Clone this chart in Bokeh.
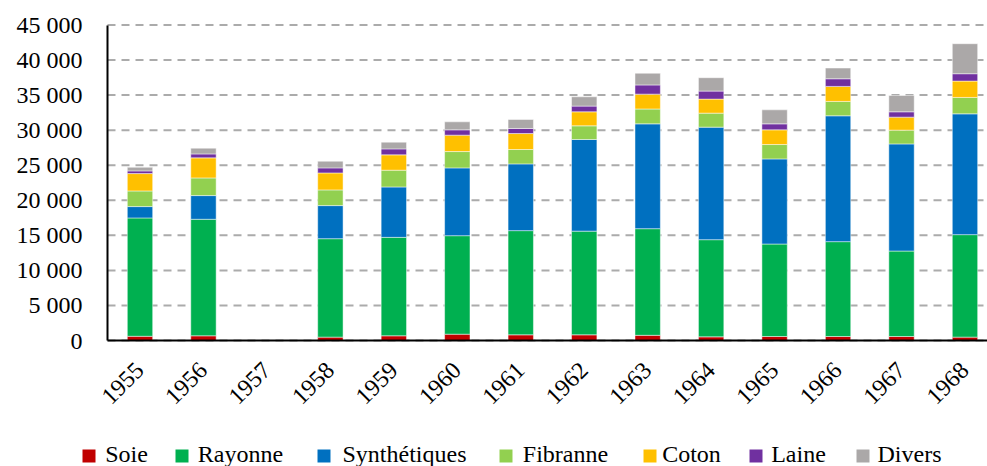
import math
from bokeh.plotting import figure
from bokeh.models import Range1d, FixedTicker, ColumnDataSource, LinearAxis
from bokeh.embed import file_html
from bokeh.resources import INLINE

years = ["1955", "1956", "1957", "1958", "1959", "1960", "1961",
         "1962", "1963", "1964", "1965", "1966", "1967", "1968"]

series_names = ["Soie", "Rayonne", "Synthétiques", "Fibranne", "Coton", "Laine", "Divers"]

soie = [600, 670, 0, 480, 670, 900, 810, 810, 740, 520, 570, 570, 570, 480]
rayonne = [16880, 16620, 0, 14040, 14040, 14050, 14860, 14790, 15210, 13860, 13190, 13530, 12190, 14620]
synthetiques = [1620, 3380, 0, 4720, 7190, 9670, 9520, 13070, 14950, 16050, 12140, 17950, 15280, 17230]
fibranne = [2230, 2520, 0, 2240, 2390, 2330, 2050, 1950, 2120, 2000, 2050, 2050, 1960, 2340]
coton = [2480, 2860, 0, 2420, 2190, 2340, 2280, 2000, 2120, 2000, 2100, 2140, 1860, 2330]
laine = [380, 560, 0, 720, 850, 760, 720, 810, 1310, 1140, 850, 1090, 760, 1050]
divers = [520, 820, 0, 950, 960, 1140, 1280, 1330, 1670, 1910, 2000, 1530, 2330, 4280]

y_ticks = [0, 5000, 10000, 15000, 20000, 25000, 30000, 35000, 40000, 45000]
y_tick_labels = ["0", "5 000", "10 000", "15 000", "20 000", "25 000",
                 "30 000", "35 000", "40 000", "45 000"]

colors = ["#C00000", "#00B050", "#0070C0", "#92D050", "#FFC000", "#7030A0", "#ABA8A8"]

keys = ["s0", "s1", "s2", "s3", "s4", "s5", "s6"]
xs = list(range(len(years)))
data = {"x": xs}
for k, vals in zip(keys, [soie, rayonne, synthetiques, fibranne, coton, laine, divers]):
    data[k] = vals
source = ColumnDataSource(data)

FONT = "Liberation Serif"
W, H = 987, 466

# screen layout of the plot area (pixels)
PX_CAT0, PX_STEP = 139.5, 63.46        # centre of first category, category pitch
PY_ZERO, PY_TOP = 340.0, 24.5          # y pixel of 0 and of 45 000
Y_MAX = 45000

def sx(px):
    return (px - PX_CAT0) / PX_STEP

def sy(py):
    return (PY_ZERO - py) / (PY_ZERO - PY_TOP) * Y_MAX

X_LEFT, X_RIGHT = sx(107), sx(W)

p = figure(width=W, height=H, output_backend="svg", toolbar_location=None,
           x_range=Range1d(sx(0), sx(W)), y_range=Range1d(sy(H), sy(0)),
           min_border=0)
p.outline_line_color = None
p.background_fill_color = "white"
p.border_fill_color = "white"
# pixel-unit ranges used only to lay out the legend row
p.extra_x_ranges = {"px": Range1d(0, W)}
p.extra_y_ranges = {"py": Range1d(H, 0)}

# dashed horizontal gridlines, limited to the plot area
p.segment(x0=[X_LEFT] * len(y_ticks), x1=[X_RIGHT] * len(y_ticks), y0=y_ticks, y1=y_ticks,
          line_color="#ABABAB", line_width=2, line_dash="8 6")

renderers = p.vbar_stack(keys, x="x", width=0.4, source=source, color=colors,
                         line_color="white", line_width=0.8, line_alpha=0.6)

p.xgrid.grid_line_color = None
p.ygrid.grid_line_color = None

# Axes
p.yaxis.fixed_location = X_LEFT
p.yaxis.bounds = (0, Y_MAX)
p.yaxis.ticker = FixedTicker(ticks=y_ticks)
p.yaxis.major_label_overrides = {t: l for t, l in zip(y_ticks, y_tick_labels)}
p.yaxis.axis_line_color = "black"
p.yaxis.axis_line_width = 2
p.yaxis.major_tick_line_color = None
p.yaxis.minor_tick_line_color = None
p.yaxis.major_label_text_font = FONT
p.yaxis.major_label_text_font_size = "24px"
p.yaxis.major_label_text_color = "black"
p.yaxis.major_label_standoff = 19

p.xaxis.fixed_location = 0
p.xaxis.bounds = (X_LEFT, X_RIGHT)
p.xaxis.ticker = FixedTicker(ticks=xs)
p.xaxis.major_label_overrides = {i: y for i, y in zip(xs, years)}
p.xaxis.axis_line_color = "black"
p.xaxis.axis_line_width = 2
p.xaxis.major_tick_line_color = None
p.xaxis.minor_tick_line_color = None
p.xaxis.major_label_text_font = FONT
p.xaxis.major_label_text_font_size = "24px"
p.xaxis.major_label_text_color = "black"
p.xaxis.major_label_orientation = math.pi / 4
p.xaxis.major_label_standoff = 20

# legend row: swatches + labels (labels drawn as axis labels in pixel units)
swatch_left_px = [82, 175, 317, 499, 643, 749, 856]
label_center_px = [126, 240, 404, 565, 691, 798, 909]
SW = 13
LEG_Y = 455.5
p.scatter(x=[px + SW / 2 for px in swatch_left_px], y=[LEG_Y] * len(swatch_left_px),
          x_range_name="px", y_range_name="py",
          marker="square", size=SW, fill_color=colors, line_color=None)

leg_axis = LinearAxis(x_range_name="px", y_range_name="py")
leg_axis.fixed_location = 440
leg_axis.ticker = FixedTicker(ticks=label_center_px)
leg_axis.major_label_overrides = {c: n for c, n in zip(label_center_px, series_names)}
leg_axis.axis_line_color = None
leg_axis.major_tick_line_color = None
leg_axis.minor_tick_line_color = None
leg_axis.major_tick_out = 0
leg_axis.major_tick_in = 0
leg_axis.major_label_standoff = 0
leg_axis.major_label_text_font = FONT
leg_axis.major_label_text_font_size = "24px"
leg_axis.major_label_text_color = "black"
p.add_layout(leg_axis, "below")

open("out.html", "w").write(file_html(p, INLINE))
